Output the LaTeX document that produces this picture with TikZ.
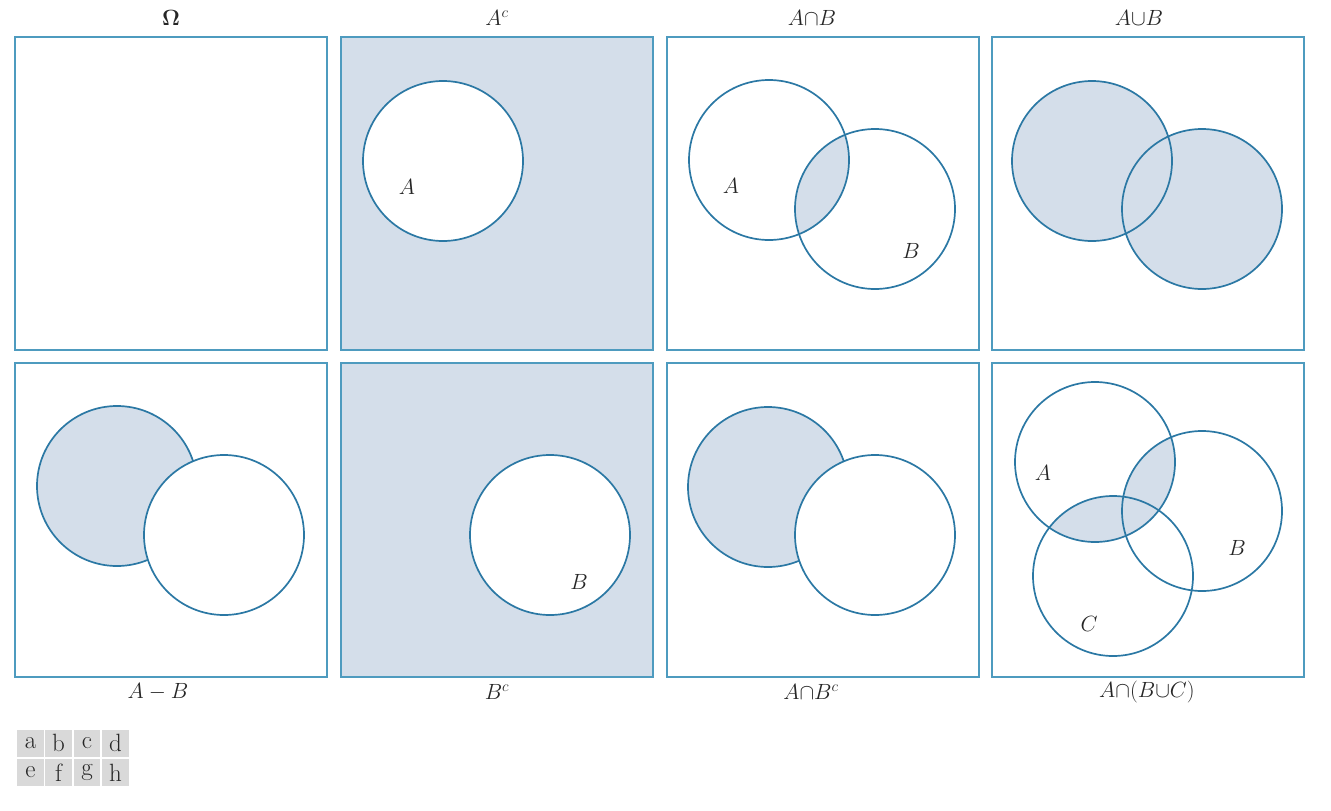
\RequirePackage{fix-cm}
\documentclass[tikz,border=0pt]{standalone}
\definecolor{boxblue}{HTML}{4E9BBF}
\definecolor{circblue}{HTML}{2B78A4}
\definecolor{fillblue}{HTML}{D4DEEA}
\definecolor{cellgray}{HTML}{D9D9D9}
\definecolor{txt}{HTML}{262626}
\tikzset{
  panel/.style={draw=boxblue, line width=1.1pt},
  circ/.style={draw=circblue, line width=1.7pt},
  lab/.style={text=txt, font=\fontsize{22}{26}\selectfont, inner sep=0pt},
  cell/.style={fill=cellgray, minimum width=26.5pt, minimum height=27pt, inner sep=0pt, text=txt, font=\fontsize{25}{28}\selectfont}
}
\begin{document}
\begin{tikzpicture}[x=1pt,y=-1pt]
\useasboundingbox (0,0) rectangle (1331,811);
% ---------- panel a : Omega
\draw[panel] (15,37) rectangle (327,350);
\node[lab] (ta) at (171,18) {$\mathbf{\Omega}$};
% ---------- panel b : A^c
\fill[fillblue] (341,37) rectangle (653,350);
\draw[panel] (341,37) rectangle (653,350);
\fill[white] (443,161) circle (80);
\draw[circ] (443,161) circle (80);
\node[lab] (ab) at (407,187) {$A$};
\node[lab] (tb) at (497,18) {$A^{c}$};
% ---------- panel c : A cap B
\draw[panel] (667,37) rectangle (979,350);
\begin{scope}
  \clip (769,160) circle (80);
  \fill[fillblue] (875,209) circle (80);
\end{scope}
\draw[circ] (769,160) circle (80);
\draw[circ] (875,209) circle (80);
\node[lab] (ac) at (731,186) {$A$};
\node[lab] (bc) at (911,251) {$B$};
\node[lab] (tc) at (812,18) {$A{\cap}B$};
% ---------- panel d : A cup B
\draw[panel] (992,37) rectangle (1304,350);
\fill[fillblue] (1092,161) circle (80);
\fill[fillblue] (1202,209) circle (80);
\draw[circ] (1092,161) circle (80);
\draw[circ] (1202,209) circle (80);
\node[lab] (td) at (1139,18) {$A{\cup}B$};
% ---------- panel e : A - B
\draw[panel] (15,363) rectangle (327,677);
\fill[fillblue] (117,486) circle (80);
\draw[circ] (117,486) circle (80);
\fill[white] (224,535) circle (80);
\draw[circ] (224,535) circle (80);
\node[lab] (te) at (158,692) {$A-B$};
% ---------- panel f : B^c
\fill[fillblue] (341,363) rectangle (653,677);
\draw[panel] (341,363) rectangle (653,677);
\fill[white] (550,535) circle (80);
\draw[circ] (550,535) circle (80);
\node[lab] (bf) at (579,582) {$B$};
\node[lab] (tf) at (497,692) {$B^{c}$};
% ---------- panel g : A cap B^c
\draw[panel] (667,363) rectangle (979,677);
\fill[fillblue] (768,487) circle (80);
\draw[circ] (768,487) circle (80);
\fill[white] (875,535) circle (80);
\draw[circ] (875,535) circle (80);
\node[lab] (tg) at (811,692) {$A{\cap}B^{c}$};
% ---------- panel h : A cap (B cup C)
\draw[panel] (992,363) rectangle (1304,677);
\begin{scope}
  \clip (1095,462) circle (80);
  \fill[fillblue] (1202,511) circle (80);
  \fill[fillblue] (1113,576) circle (80);
\end{scope}
\draw[circ] (1095,462) circle (80);
\draw[circ] (1202,511) circle (80);
\draw[circ] (1113,576) circle (80);
\node[lab] (ah) at (1043,473) {$A$};
\node[lab] (bh) at (1237,548) {$B$};
\node[lab] (ch) at (1089,624) {$C$};
\node[lab] (th) at (1147,692) {$A{\cap}(B{\cup}C)$};
% ---------- legend
\node[cell] (la) at (30.5,743) {a};
\node[cell] (lb) at (58.5,743) {b};
\node[cell] (lc) at (87,743) {c};
\node[cell] (ld) at (115.5,743) {d};
\node[cell] (le) at (30.5,772.5) {e};
\node[cell] (lf) at (58.5,772.5) {f};
\node[cell] (lg) at (87,772.5) {g};
\node[cell] (lh) at (115.5,772.5) {h};
\end{tikzpicture}
\end{document}
